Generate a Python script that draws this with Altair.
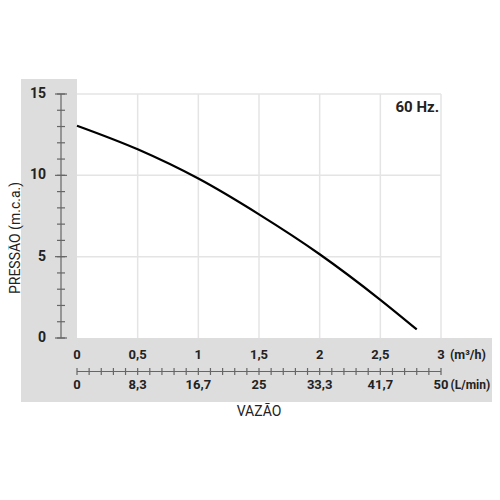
import altair as alt
import pandas as pd

# --- data ---
flow_m3h = [0.0, 0.5, 1.0, 1.5, 2.0, 2.5, 2.8]
pressure_mca = [13.05, 11.6, 9.8, 7.6, 5.15, 2.35, 0.53]

y_ticks = list(range(0, 16))
y_major = [0, 5, 10, 15]
y_major_labels = ["0", "5", "10", "15"]

x_major = [0.0, 0.5, 1.0, 1.5, 2.0, 2.5, 3.0]
x_m3h_labels = ["0", "0,5", "1", "1,5", "2", "2,5", "3"]
x_lmin_labels = ["0", "8,3", "16,7", "25", "33,3", "41,7", "50"]
x_minor = [round(i * 0.1, 1) for i in range(31)]

y_grid = [5, 10, 15]
x_grid = [0.5, 1.0, 1.5, 2.0, 2.5, 3.0]

# --- styling ---
W, H = 364, 244
FONT = "Roboto"
GRAY = "#dddddd"
GRID = "#e4e4e4"
AX = "#666666"
TXT = "#222222"

xs = alt.Scale(domain=[0, 3], nice=False, zero=False)
ys = alt.Scale(domain=[0, 15], nice=False, zero=False)

one = pd.DataFrame({"a": [0]})
curve_df = pd.DataFrame({"q": flow_m3h, "p": pressure_mca})
yt_df = pd.DataFrame({"v": y_ticks})
ym_df = pd.DataFrame({"v": y_major, "t": y_major_labels})
xm_df = pd.DataFrame({"v": x_major, "t": x_m3h_labels, "t2": x_lmin_labels})
xminor_df = pd.DataFrame({"v": x_minor})
yg_df = pd.DataFrame({"v": y_grid})
xg_df = pd.DataFrame({"v": x_grid})

# gray frame panels
col_panel = alt.Chart(one).mark_rect(color=GRAY).encode(
    x=alt.value(-56), x2=alt.value(0), y=alt.value(-15), y2=alt.value(308))
bottom_panel = alt.Chart(one).mark_rect(color=GRAY).encode(
    x=alt.value(-56), x2=alt.value(415), y=alt.value(H), y2=alt.value(308))

# grid
ygrid = alt.Chart(yg_df).mark_rule(color=GRID, strokeWidth=1.5).encode(
    y=alt.Y("v:Q", scale=ys, axis=None), x=alt.value(0), x2=alt.value(W))
xgrid = alt.Chart(xg_df).mark_rule(color=GRID, strokeWidth=1.5).encode(
    x=alt.X("v:Q", scale=xs, axis=None), y=alt.value(0), y2=alt.value(H))

# y axis (pressure)
y_line = alt.Chart(one).mark_rule(color=AX, strokeWidth=1.2).encode(
    x=alt.value(-16), y=alt.value(0), y2=alt.value(H))
y_minor_ticks = alt.Chart(yt_df).mark_rule(color=AX, strokeWidth=1.2).encode(
    y=alt.Y("v:Q", scale=ys, axis=None), x=alt.value(-20), x2=alt.value(-12))
y_major_ticks = alt.Chart(ym_df).mark_rule(color=AX, strokeWidth=1.2).encode(
    y=alt.Y("v:Q", scale=ys, axis=None), x=alt.value(-22), x2=alt.value(-10))
y_labels = alt.Chart(ym_df).mark_text(
    font=FONT, fontSize=14, fontWeight="bold", color=TXT, align="right", baseline="middle"
).encode(y=alt.Y("v:Q", scale=ys, axis=None), x=alt.value(-31), text="t:N")
y_title = alt.Chart(one).mark_text(
    font=FONT, fontSize=14, color=TXT, angle=270, align="center", baseline="middle", text="PRESSÃO (m.c.a.)"
).encode(x=alt.value(-61), y=alt.value(144))

# x axis (flow)
x_line = alt.Chart(one).mark_rule(color=AX, strokeWidth=1.2).encode(
    y=alt.value(277.5), x=alt.value(0), x2=alt.value(W))
x_ticks = alt.Chart(xminor_df).mark_rule(color=AX, strokeWidth=1.2).encode(
    x=alt.X("v:Q", scale=xs, axis=None), y=alt.value(274), y2=alt.value(281))
x_labels_top = alt.Chart(xm_df).mark_text(
    font=FONT, fontSize=13, fontWeight="bold", color=TXT, align="center", baseline="middle"
).encode(x=alt.X("v:Q", scale=xs, axis=None), y=alt.value(261), text="t:N")
x_labels_bot = alt.Chart(xm_df).mark_text(
    font=FONT, fontSize=13, fontWeight="bold", color=TXT, align="center", baseline="middle"
).encode(x=alt.X("v:Q", scale=xs, axis=None), y=alt.value(291), text="t2:N")
unit_top = alt.Chart(one).mark_text(
    font=FONT, fontSize=12.5, fontWeight="bold", color=TXT, align="left", baseline="middle", text="(m³/h)"
).encode(x=alt.value(373), y=alt.value(261))
unit_bot = alt.Chart(one).mark_text(
    font=FONT, fontSize=12, fontWeight="bold", color=TXT, align="left", baseline="middle", text="(L/min)"
).encode(x=alt.value(373.5), y=alt.value(291))
x_title = alt.Chart(one).mark_text(
    font=FONT, fontSize=14, color=TXT, align="center", baseline="middle", text="VAZÃO"
).encode(x=alt.value(W / 2), y=alt.value(318))

hz = alt.Chart(one).mark_text(
    font=FONT, fontSize=15, fontWeight="bold", color=TXT, align="right", baseline="middle", text="60 Hz."
).encode(x=alt.value(362), y=alt.value(13))

curve = alt.Chart(curve_df).mark_line(color="black", strokeWidth=2.2, interpolate="monotone").encode(
    x=alt.X("q:Q", scale=xs, axis=None), y=alt.Y("p:Q", scale=ys, axis=None))

chart = alt.layer(
    col_panel, bottom_panel, ygrid, xgrid,
    y_line, y_minor_ticks, y_major_ticks, y_labels, y_title,
    x_line, x_ticks, x_labels_top, x_labels_bot, unit_top, unit_bot, x_title,
    hz, curve,
).properties(
    width=W, height=H,
    autosize=alt.AutoSizeParams(type="none"),
    padding={"left": 69, "top": 86, "right": 51, "bottom": 92},
).configure_view(strokeWidth=0)

chart.save("out.html", embed_options={"renderer": "svg", "actions": False})
